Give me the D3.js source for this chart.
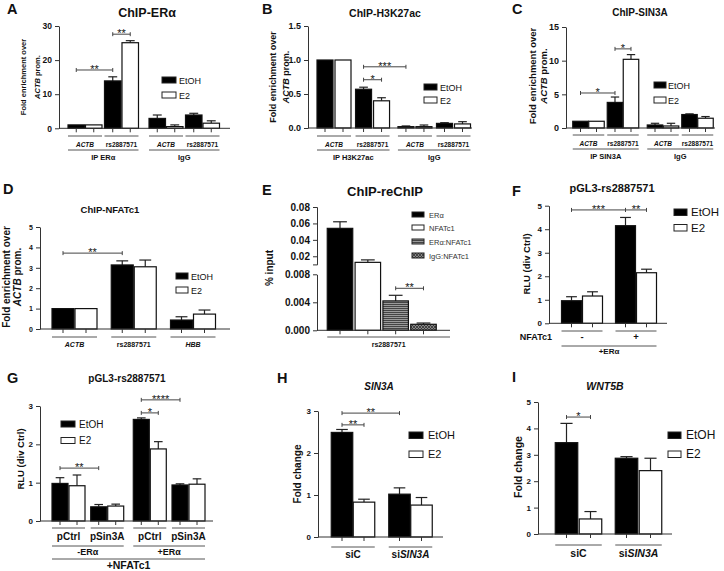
<!DOCTYPE html>
<html><head><meta charset="utf-8">
<script src="https://cdnjs.cloudflare.com/ajax/libs/d3/7.8.5/d3.min.js"></script>
<style>body{margin:0;background:#fff}svg{display:block}</style>
</head><body><svg id="c" width="724" height="571"></svg>
<script>
// ---------------- DATA ----------------
const seriesNames = ["EtOH", "E2"];

const aGroups = ["ACTB", "rs2887571", "ACTB", "rs2887571"];
const aSupers = ["IP ERα", "IgG"];
const aEtOH = [1, 13.9, 2.9, 3.9];
const aEtOHErr = [0, 1.2, 1.0, 0.5];
const aE2 = [1, 25.1, 0.5, 1.5];
const aE2Err = [0, 0.6, 0.5, 0.7];
const aTicks = [0, 10, 20, 30];
const aSig = [[0, 0, 1, 0, 17.1, "**"], [1, 0, 1, 1, 27.6, "**"]];

const bGroups = ["ACTB", "rs2887571", "ACTB", "rs2887571"];
const bSupers = ["IP H3K27ac", "IgG"];
const bEtOH = [1, 0.57, 0.02, 0.068];
const bEtOHErr = [0, 0.03, 0.01, 0.01];
const bE2 = [1, 0.40, 0.02, 0.06];
const bE2Err = [0, 0.045, 0.024, 0.033];
const bTicks = [0, 0.5, 1.0, 1.5];
const bSig = [[1, 0, 1, 1, 0.71, "*"], [1, 0, 2, 0, 0.90, "***"]];

const cGroups = ["ACTB", "rs2887571", "ACTB", "rs2887571"];
const cSupers = ["IP SIN3A", "IgG"];
const cEtOH = [1, 3.8, 0.45, 2.0];
const cEtOHErr = [0, 0.8, 0.25, 0.1];
const cE2 = [1, 10.2, 0.3, 1.45];
const cE2Err = [0, 0.7, 0.4, 0.25];
const cTicks = [0, 5, 10, 15];
const cSig = [[0, 0, 1, 0, 5.2, "*"], [1, 0, 1, 1, 11.75, "*"]];

const dGroups = ["ACTB", "rs2887571", "HBB"];
const dEtOH = [1, 3.14, 0.44];
const dEtOHErr = [0, 0.2, 0.16];
const dE2 = [1, 3.05, 0.73];
const dE2Err = [0, 0.33, 0.2];
const dTicks = [0, 1, 2, 3, 4, 5];
const dSig = [[0, 0, 1, 0, 3.72, "**"]];

const eSeries = ["ERα", "NFATc1", "ERα:NFATc1", "IgG:NFATc1"];
const eGroup = "rs2887571";
const eValues = [0.054, 0.0126, 0.0042, 0.00086];
const eErr = [0.008, 0.003, 0.0008, 0.00018];
const eTicksTop = [0.02, 0.04, 0.06, 0.08];
const eTicksBottom = [0, 0.004, 0.008];
const eSig = [[2, 3, 0.006, "**"]];

const fGroups = ["-", "+"];
const fSupers = ["+ERα"];
const fRowLabel = "NFATc1";
const fEtOH = [0.96, 4.15];
const fEtOHErr = [0.17, 0.35];
const fE2 = [1.16, 2.15];
const fE2Err = [0.18, 0.15];
const fTicks = [0, 1, 2, 3, 4, 5];
const fSig = [[0, 0, 1, 0, 4.82, "***"], [1, 0, 1, 1, 4.82, "**"]];

const gGroups = ["pCtrl", "pSin3A", "pCtrl", "pSin3A"];
const gSupers = ["-ERα", "+ERα"];
const gTop = "+NFATc1";
const gEtOH = [0.98, 0.37, 2.65, 0.94];
const gEtOHErr = [0.15, 0.06, 0.04, 0.03];
const gE2 = [0.92, 0.39, 1.88, 0.96];
const gE2Err = [0.28, 0.05, 0.19, 0.14];
const gTicks = [0, 1, 2, 3];
const gSig = [[0, 0, 1, 0, 1.38, "**"], [2, 0, 2, 1, 2.82, "*"], [2, 0, 3, 0, 3.16, "****"]];

const hGroups = ["siC", "siSIN3A"];
const hEtOH = [2.49, 1.02];
const hEtOHErr = [0.07, 0.15];
const hE2 = [0.83, 0.76];
const hE2Err = [0.07, 0.18];
const hTicks = [0, 1, 2, 3];
const hSig = [[0, 0, 0, 1, 2.67, "**"], [0, 0, 1, 0, 2.95, "**"]];

const iGroups = ["siC", "siSIN3A"];
const iEtOH = [3.46, 2.87];
const iEtOHErr = [0.73, 0.06];
const iE2 = [0.57, 2.4];
const iE2Err = [0.28, 0.47];
const iTicks = [0, 1, 2, 3, 4, 5];
const iSig = [[0, 0, 0, 1, 4.43, "*"]];

const italicTerms = ["ACTB", "HBB", "SIN3A"];

// ---------------- DRAWING ----------------
const FONT = '"Liberation Sans", Arial, Helvetica, sans-serif';
const svg = d3.select("#c");
const LINE = "#333";

const defs = svg.append("defs");
const ps = defs.append("pattern").attr("id", "hstripe").attr("patternUnits", "userSpaceOnUse").attr("width", 4).attr("height", 2);
ps.append("rect").attr("width", 4).attr("height", 2).attr("fill", "#9a9a9a");
ps.append("rect").attr("width", 4).attr("height", 1).attr("fill", "#444");
const px = defs.append("pattern").attr("id", "xhatch").attr("patternUnits", "userSpaceOnUse").attr("width", 3).attr("height", 3);
px.append("rect").attr("width", 3).attr("height", 3).attr("fill", "#888");
px.append("path").attr("d", "M0,3L3,0M0,0L3,3").attr("stroke", "#333").attr("stroke-width", 0.8);

function txt(g, x, y, s, fs, opts) {
  opts = opts || {};
  const t = g.append("text").attr("x", x).attr("y", y)
    .attr("font-family", FONT).attr("font-size", fs)
    .attr("font-weight", opts.weight || "bold")
    .attr("fill", opts.fill || "#111")
    .attr("text-anchor", opts.anchor || "middle");
  if (opts.italic) t.attr("font-style", "italic");
  if (opts.rotate) t.attr("transform", `rotate(-90,${x},${y})`);
  if (opts.rich) {
    const re = new RegExp("(" + italicTerms.join("|") + ")");
    s.split(re).filter(d => d.length).forEach(d => {
      t.append("tspan").attr("font-style", italicTerms.includes(d) ? "italic" : null).text(d);
    });
  } else t.text(s);
  return t;
}

function styleAxis(sel, fs) {
  sel.attr("font-family", FONT).attr("font-size", fs).attr("font-weight", "bold");
  sel.select(".domain").attr("stroke", LINE).attr("stroke-width", 1);
  sel.selectAll(".tick line").attr("stroke", LINE);
  sel.selectAll(".tick text").attr("fill", "#111");
}

function hline(g, x1, x2, y, col) {
  g.append("line").attr("x1", x1).attr("x2", x2).attr("y1", y).attr("y2", y)
    .attr("stroke", col || "#555").attr("stroke-width", 1);
}

function bracket(g, x1, x2, y, label, fs) {
  hline(g, x1, x2, y, "#444");
  [x1, x2].forEach(x => g.append("line").attr("x1", x).attr("x2", x).attr("y1", y - 2).attr("y2", y + 2)
    .attr("stroke", "#444").attr("stroke-width", 1));
  txt(g, (x1 + x2) / 2, y + 3, label, fs || 11, {weight: "normal"});
}

function legend(g, o) {
  seriesNames.forEach((n, i) => {
    g.append("rect").attr("x", o.x).attr("y", o.ys[i]).attr("width", o.w).attr("height", o.h)
      .attr("fill", i === 0 ? "#000" : "#fff").attr("stroke", "#222").attr("stroke-width", 1);
    txt(g, o.tx, o.ys[i] + o.h + 0.5, n, o.fs, {weight: "normal", anchor: "start"});
  });
}

function barPanel(o) {
  const g = svg.append("g");
  const y = d3.scaleLinear().domain([0, o.yMax]).range([o.y0, o.yTop]);
  const ax = g.append("g").attr("transform", `translate(${o.ax},0)`)
    .call(d3.axisLeft(y).tickValues(o.ticks).tickSize(4).tickSizeOuter(0).tickFormat(o.fmt || d3.format("d")));
  styleAxis(ax, o.tickFs);

  const sup = i => o.supers ? Math.floor(i / o.perSuper) : 0;
  const units = o.groups.map((d, i) => i + sup(i) * (o.gap || 0));
  const xs = d3.scaleLinear().domain([0, units[units.length - 1]]).range([o.xFirst, o.xLast]);
  const cx = (gi, si) => xs(units[gi]) + (si === 0 ? -o.off : o.off);
  const series = [[o.etoh, o.etohErr], [o.e2, o.e2Err]];

  series.forEach((s, si) => {
    s[0].forEach((v, gi) => {
      const x = cx(gi, si);
      const top = y(v + s[1][gi]);
      if (s[1][gi] > 0) {
        g.append("line").attr("x1", x).attr("x2", x).attr("y1", y(v)).attr("y2", top).attr("stroke", "#222").attr("stroke-width", 1.2);
        g.append("line").attr("x1", x - o.bw * 0.27).attr("x2", x + o.bw * 0.27).attr("y1", top).attr("y2", top).attr("stroke", "#222").attr("stroke-width", 1.2);
      }
      g.append("rect").attr("x", x - o.bw / 2).attr("y", y(v)).attr("width", o.bw).attr("height", o.y0 - y(v))
        .attr("fill", si === 0 ? "#000" : "#fff").attr("stroke", "#111").attr("stroke-width", 1.2);
      g.append("line").attr("x1", x).attr("x2", x).attr("y1", o.y0).attr("y2", o.y0 + 4).attr("stroke", LINE);
    });
  });
  hline(g, o.ax, o.xEnd, o.y0, LINE);

  o.groups.forEach((lab, gi) => {
    const x1 = cx(gi, 0) - o.bw / 2, x2 = cx(gi, 1) + o.bw / 2;
    hline(g, x1, x2, o.catY);
    txt(g, (x1 + x2) / 2, o.catY + o.catDy, lab, o.catFs, {rich: true});
  });
  if (o.supers) {
    o.supers.forEach((lab, k) => {
      const x1 = cx(k * o.perSuper, 0) - o.bw / 2, x2 = cx(k * o.perSuper + o.perSuper - 1, 1) + o.bw / 2;
      hline(g, x1, x2, o.supY);
      txt(g, (x1 + x2) / 2, o.supY + o.supDy, lab, o.supFs);
    });
  }
  if (o.top) {
    const x1 = cx(0, 0) - o.bw / 2, x2 = cx(o.groups.length - 1, 1) + o.bw / 2;
    hline(g, x1, x2, o.top.y);
    txt(g, (x1 + x2) / 2, o.top.y + o.top.dy, o.top.label, o.top.fs);
  }
  if (o.rowLabel) txt(g, o.rowLabel.x, o.catY + o.catDy, o.rowLabel.label, o.rowLabel.fs, {anchor: "end"});

  o.sig.forEach(s => bracket(g, cx(s[0], s[1]), cx(s[2], s[3]), y(s[4]), s[5], o.starFs));

  txt(g, o.letter[0], o.letter[1], o.letter[2], 14.5, {anchor: "start"});
  txt(g, o.title.x, o.title.y, o.title.text, o.title.fs, {italic: o.title.italic});
  o.ylab.lines.forEach((l, k) => txt(g, o.ylab.xs[k], o.ylab.cy, l, o.ylab.fs, {rotate: true, rich: true}));
  legend(g, o.leg);
}

// Panel A
barPanel({ax: 59, y0: 128.3, yTop: 26, yMax: 30, ticks: aTicks, tickFs: 8.5,
  groups: aGroups, supers: aSupers, perSuper: 2, gap: 0.22, xFirst: 85, xLast: 202.5, bw: 16.5, off: 8.75, xEnd: 230,
  etoh: aEtOH, etohErr: aEtOHErr, e2: aE2, e2Err: aE2Err, sig: aSig, starFs: 11,
  catY: 136, catDy: 10.5, catFs: 6.5, supY: 150, supDy: 9.5, supFs: 7.5,
  letter: [7, 14, "A"], title: {x: 147, y: 17, text: "ChIP-ERα", fs: 12.5},
  ylab: {lines: ["Fold enrichment over", "ACTB prom."], xs: [26, 40], cy: 77, fs: 7.5},
  leg: {x: 162, ys: [77, 92], w: 14, h: 6, tx: 179, fs: 9}});

// Panel B
barPanel({ax: 308, y0: 128, yTop: 26, yMax: 1.5, ticks: bTicks, tickFs: 9, fmt: d3.format(".1f"),
  groups: bGroups, supers: bSupers, perSuper: 2, gap: 0.1, xFirst: 334, xLast: 453.5, bw: 16, off: 9, xEnd: 472,
  etoh: bEtOH, etohErr: bEtOHErr, e2: bE2, e2Err: bE2Err, sig: bSig, starFs: 11,
  catY: 136, catDy: 10.5, catFs: 6.5, supY: 150, supDy: 9.5, supFs: 7.5,
  letter: [262, 14, "B"], title: {x: 385, y: 17, text: "ChIP-H3K27ac", fs: 10.5},
  ylab: {lines: ["Fold enrichment over", "ACTB prom."], xs: [276, 289], cy: 77, fs: 9},
  leg: {x: 424, ys: [84, 97], w: 13, h: 6, tx: 440, fs: 9}});

// Panel C
barPanel({ax: 566, y0: 128, yTop: 27, yMax: 15, ticks: cTicks, tickFs: 9,
  groups: cGroups, supers: cSupers, perSuper: 2, gap: 0.16, xFirst: 588.5, xLast: 697.5, bw: 15.5, off: 8, xEnd: 715,
  etoh: cEtOH, etohErr: cEtOHErr, e2: cE2, e2Err: cE2Err, sig: cSig, starFs: 11,
  catY: 135, catDy: 11, catFs: 6.5, supY: 149, supDy: 10, supFs: 7.5,
  letter: [512, 14, "C"], title: {x: 640, y: 16, text: "ChIP-SIN3A", fs: 10},
  ylab: {lines: ["Fold enrichment over", "ACTB prom."], xs: [536, 547], cy: 76, fs: 9.5},
  leg: {x: 654, ys: [82, 97], w: 12, h: 6, tx: 668, fs: 9}});

// Panel D
barPanel({ax: 40, y0: 329, yTop: 227, yMax: 5, ticks: dTicks, tickFs: 7,
  groups: dGroups, xFirst: 74.5, xLast: 193, bw: 22, off: 11.5, xEnd: 230,
  etoh: dEtOH, etohErr: dEtOHErr, e2: dE2, e2Err: dE2Err, sig: dSig, starFs: 11,
  catY: 337, catDy: 10, catFs: 7,
  letter: [3, 194, "D"], title: {x: 110, y: 213, text: "ChIP-NFATc1", fs: 9.5},
  ylab: {lines: ["Fold enrichment over", "ACTB prom."], xs: [9.5, 20.5], cy: 277, fs: 10},
  leg: {x: 176, ys: [273, 287], w: 12, h: 6, tx: 191, fs: 9}});

// Panel F
barPanel({ax: 549, y0: 323.3, yTop: 205.7, yMax: 5, ticks: fTicks, tickFs: 8,
  groups: fGroups, supers: fSupers, perSuper: 2, gap: 0, xFirst: 582, xLast: 636, bw: 20, off: 10.5, xEnd: 667,
  etoh: fEtOH, etohErr: fEtOHErr, e2: fE2, e2Err: fE2Err, sig: fSig, starFs: 11,
  catY: 331, catDy: 9, catFs: 9.5, supY: 346, supDy: 7.5, supFs: 8,
  rowLabel: {label: fRowLabel, x: 552, fs: 9},
  letter: [512, 196, "F"], title: {x: 612, y: 192, text: "pGL3-rs2887571", fs: 11},
  ylab: {lines: ["RLU (div Ctrl)"], xs: [530], cy: 264, fs: 9.5},
  leg: {x: 674, ys: [209, 224.5], w: 13, h: 6.5, tx: 691, fs: 11.5}});

// Panel G
barPanel({ax: 40, y0: 521, yTop: 406, yMax: 3, ticks: gTicks, tickFs: 8,
  groups: gGroups, supers: gSupers, perSuper: 2, gap: 0.1, xFirst: 68.5, xLast: 188.5, bw: 16, off: 8.5, xEnd: 213,
  etoh: gEtOH, etohErr: gEtOHErr, e2: gE2, e2Err: gE2Err, sig: gSig, starFs: 11,
  catY: 528, catDy: 12, catFs: 10, supY: 546, supDy: 9, supFs: 9,
  top: {label: gTop, y: 559, dy: 10, fs: 10.5},
  letter: [7, 383, "G"], title: {x: 127, y: 382, text: "pGL3-rs2887571", fs: 10},
  ylab: {lines: ["RLU (div Ctrl)"], xs: [24], cy: 459, fs: 9.5},
  leg: {x: 61, ys: [421, 437.5], w: 14, h: 6, tx: 79, fs: 10}});

// Panel H
barPanel({ax: 318, y0: 537, yTop: 411, yMax: 3, ticks: hTicks, tickFs: 8,
  groups: hGroups, xFirst: 353, xLast: 410.5, bw: 21.5, off: 11, xEnd: 443,
  etoh: hEtOH, etohErr: hEtOHErr, e2: hE2, e2Err: hE2Err, sig: hSig, starFs: 11,
  catY: 547, catDy: 11, catFs: 10,
  letter: [277, 383, "H"], title: {x: 379, y: 390, text: "SIN3A", fs: 10, italic: true},
  ylab: {lines: ["Fold change"], xs: [301], cy: 474, fs: 10},
  leg: {x: 409, ys: [432, 451], w: 14, h: 6.5, tx: 428, fs: 11}});

// Panel I
barPanel({ax: 538, y0: 534, yTop: 402, yMax: 5, ticks: iTicks, tickFs: 8,
  groups: iGroups, xFirst: 578.5, xLast: 638.5, bw: 22.5, off: 12, xEnd: 672,
  etoh: iEtOH, etohErr: iEtOHErr, e2: iE2, e2Err: iE2Err, sig: iSig, starFs: 11,
  catY: 545, catDy: 12, catFs: 10.5,
  letter: [512, 382, "I"], title: {x: 605, y: 390, text: "WNT5B", fs: 10.5, italic: true},
  ylab: {lines: ["Fold change"], xs: [522], cy: 467, fs: 10.5},
  leg: {x: 668, ys: [432, 451], w: 13, h: 6.5, tx: 686, fs: 12}});

// Panel E (broken axis)
(function () {
  const g = svg.append("g");
  const axX = 317, y0 = 330.3, xEnd = 450;
  const yE = d3.scaleLinear().domain([0, 0.008, 0.0101, 0.08]).range([y0, 274.3, 264.4, 207]);
  const yTopS = d3.scaleLinear().domain([0.0101, 0.08]).range([264.4, 207]);
  const yBotS = d3.scaleLinear().domain([0, 0.008]).range([y0, 274.3]);
  const a1 = g.append("g").attr("transform", `translate(${axX},0)`)
    .call(d3.axisLeft(yTopS).tickValues(eTicksTop).tickSize(4).tickSizeOuter(4).tickFormat(d3.format(".2f")));
  const a2 = g.append("g").attr("transform", `translate(${axX},0)`)
    .call(d3.axisLeft(yBotS).tickValues(eTicksBottom).tickSize(4).tickSizeOuter(0).tickFormat(d3.format(".3f")));
  styleAxis(a1, 10); styleAxis(a2, 10);
  const x = d3.scaleLinear().domain([0, eSeries.length - 1]).range([340, 423.5]);
  const bw = 25.5;
  const fills = ["#000", "#fff", "url(#hstripe)", "url(#xhatch)"];
  eValues.forEach((v, i) => {
    const cx = x(i), top = yE(v + eErr[i]);
    g.append("line").attr("x1", cx).attr("x2", cx).attr("y1", yE(v)).attr("y2", top).attr("stroke", "#222").attr("stroke-width", 1.2);
    g.append("line").attr("x1", cx - bw * 0.27).attr("x2", cx + bw * 0.27).attr("y1", top).attr("y2", top).attr("stroke", "#222").attr("stroke-width", 1.2);
    g.append("rect").attr("x", cx - bw / 2).attr("y", yE(v)).attr("width", bw).attr("height", y0 - yE(v))
      .attr("fill", fills[i]).attr("stroke", "#111").attr("stroke-width", 1.2);
    g.append("line").attr("x1", cx).attr("x2", cx).attr("y1", y0).attr("y2", y0 + 4).attr("stroke", LINE);
  });
  hline(g, axX, xEnd, y0, LINE);
  hline(g, x(0) - bw / 2, xEnd, 337);
  txt(g, (x(0) - bw / 2 + xEnd) / 2, 347, eGroup, 7);
  eSig.forEach(s => bracket(g, x(s[0]), x(s[1]), yE(s[2]), s[3], 11));
  txt(g, 262, 195, "E", 14.5, {anchor: "start"});
  txt(g, 385, 196, "ChIP-reChIP", 13);
  txt(g, 273, 268, "% input", 10, {rotate: true});
  const ly = [212, 225, 239, 253];
  eSeries.forEach((n, i) => {
    g.append("rect").attr("x", 412).attr("y", ly[i]).attr("width", 12).attr("height", 5)
      .attr("fill", fills[i]).attr("stroke", "#222").attr("stroke-width", 1);
    txt(g, 429, ly[i] + 5.5, n, 7.5, {weight: "normal", anchor: "start", fill: "#333"});
  });
})();
</script></body></html>
